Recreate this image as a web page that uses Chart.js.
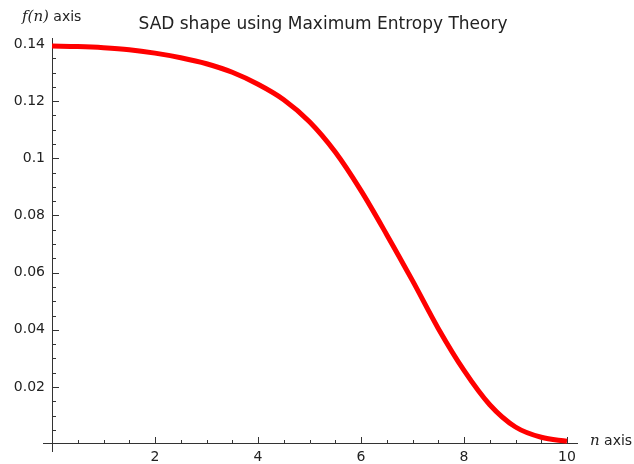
<!DOCTYPE html>
<html>
<head>
<meta charset="utf-8">
<script src="https://cdn.jsdelivr.net/npm/chart.js@4/dist/chart.umd.min.js"></script>
<style>
  body { margin: 0; background: #fff; }
  canvas { display: block; }
</style>
</head>
<body>
<canvas id="sad" width="634" height="464"></canvas>
<script>
// values
const nValues = [0, 0.5, 1, 1.5, 2, 2.5, 3, 3.5, 4, 4.5, 5, 5.5, 6, 6.5, 7, 7.5, 8, 8.5, 9, 9.5, 10];
const fValues = [0.1393, 0.1391, 0.1387, 0.1380, 0.1368, 0.1352, 0.1331, 0.1301, 0.1259, 0.1205,
                 0.1128, 0.1022, 0.0887, 0.0733, 0.0572, 0.0405, 0.0258, 0.0138, 0.0060, 0.0024, 0.0010];
const xTicks = [2, 4, 6, 8, 10];
const yTicks = [0.02, 0.04, 0.06, 0.08, 0.1, 0.12, 0.14];
const xMinorStep = 0.5;
const yMinorStep = 0.005;

const axisColor = '#333';
const textColor = '#222';

// sage style axes: lines crossing at the origin, ticks pointing inward
const sageAxes = {
    id: 'sageAxes',
    beforeDatasetsDraw(chart) {
        const ctx = chart.ctx;
        const xs = chart.scales.x, ys = chart.scales.y;
        const x0 = xs.getPixelForValue(xs.min);
        const y0 = ys.getPixelForValue(ys.min);
        ctx.save();
        ctx.strokeStyle = axisColor;
        ctx.lineWidth = 1;
        ctx.beginPath();
        ctx.moveTo(x0 - 9, y0 + 0.5);
        ctx.lineTo(xs.right + 11, y0 + 0.5);
        ctx.moveTo(x0 + 0.5, ys.top - 6);
        ctx.lineTo(x0 + 0.5, y0 + 9);
        // major and minor ticks
        for (let v = xs.min + xMinorStep; v <= xs.max + 1e-9; v += xMinorStep) {
            const px = Math.round(xs.getPixelForValue(v)) + 0.5;
            const len = xTicks.some(t => Math.abs(t - v) < 1e-9) ? 6 : 3;
            ctx.moveTo(px, y0);
            ctx.lineTo(px, y0 - len);
        }
        for (let i = 1; i * yMinorStep <= ys.max + 1e-9; i++) {
            const v = i * yMinorStep;
            const py = Math.round(ys.getPixelForValue(v)) + 0.5;
            const len = yTicks.some(t => Math.abs(t - v) < 1e-9) ? 7 : 4;
            ctx.moveTo(x0, py);
            ctx.lineTo(x0 + len, py);
        }
        ctx.stroke();
        ctx.restore();
    },
    afterDraw(chart) {
        const ctx = chart.ctx;
        const ys = chart.scales.y;
        const yAxis = ys.getPixelForValue(ys.min) - 2;
        ctx.save();
        ctx.fillStyle = textColor;
        ctx.textBaseline = 'middle';
        // f(n) axis
        ctx.font = 'italic 15px "DejaVu Serif"';
        ctx.fillText('f(n)', 22, 17);
        let w = ctx.measureText('f(n)').width;
        ctx.font = '14px "DejaVu Sans"';
        ctx.fillText(' axis', 22 + w, 17);
        // n axis
        ctx.font = 'italic 15px "DejaVu Serif"';
        ctx.fillText('n', 590, yAxis);
        w = ctx.measureText('n').width;
        ctx.font = '14px "DejaVu Sans"';
        ctx.fillText(' axis', 590 + w, yAxis);
        ctx.restore();
    }
};

new Chart(document.getElementById('sad'), {
    type: 'line',
    data: {
        datasets: [{
            data: nValues.map((n, i) => ({ x: n, y: fValues[i] })),
            borderColor: '#ff0000',
            borderWidth: 5,
            pointRadius: 0,
            cubicInterpolationMode: 'monotone',
            clip: false
        }]
    },
    options: {
        responsive: false,
        animation: false,
        devicePixelRatio: 1,
        layout: { padding: { left: 12, right: 0, top: 0, bottom: 0 } },
        plugins: {
            legend: { display: false },
            tooltip: { enabled: false },
            title: {
                display: true,
                text: 'SAD shape using Maximum Entropy Theory',
                color: textColor,
                font: { family: 'DejaVu Sans', size: 17, weight: 'normal' },
                padding: { top: 14, bottom: 9.6 }
            }
        },
        scales: {
            x: {
                type: 'linear',
                min: 0,
                max: 10,
                afterBuildTicks: s => { s.ticks = xTicks.map(v => ({ value: v })); },
                afterFit: s => { s.height = 21; },
                grid: { display: false, drawTicks: false },
                border: { display: false },
                ticks: {
                    padding: 6,
                    color: textColor,
                    font: { family: 'DejaVu Sans', size: 14 },
                    maxRotation: 0,
                    autoSkip: false
                }
            },
            y: {
                min: 0.0004,
                max: 0.14,
                afterBuildTicks: s => { s.ticks = yTicks.map(v => ({ value: v })); },
                afterFit: s => { s.width = 40; },
                grid: { display: false, drawTicks: false },
                border: { display: false },
                ticks: {
                    padding: 7,
                    color: textColor,
                    font: { family: 'DejaVu Sans', size: 14 },
                    callback: v => String(Number(v.toFixed(3))),
                    autoSkip: false
                }
            },
            y2: {
                position: 'right',
                afterFit: s => { s.width = 67; },
                grid: { display: false },
                border: { display: false },
                ticks: { display: false }
            }
        }
    },
    plugins: [sageAxes]
});
</script>
</body>
</html>
